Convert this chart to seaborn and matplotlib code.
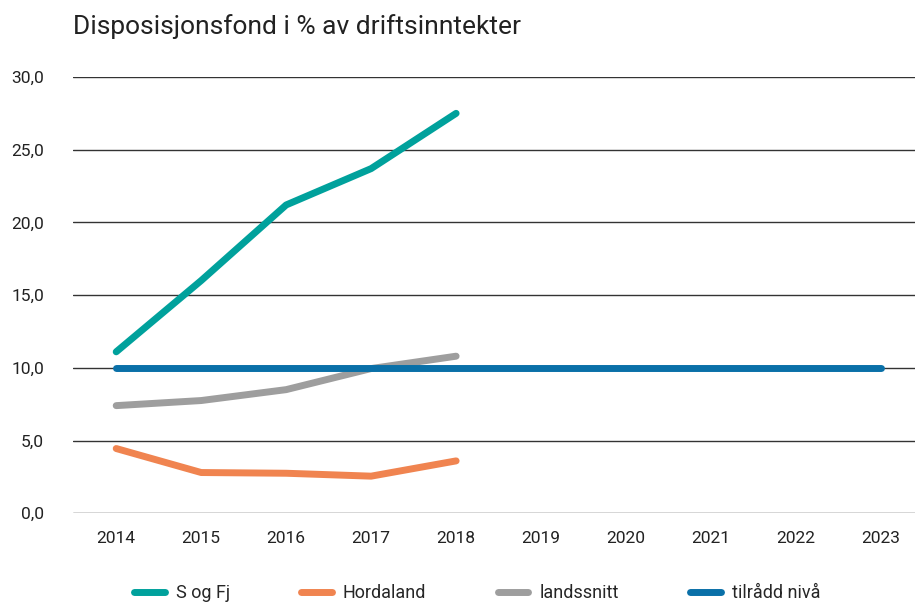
import pandas as pd
import seaborn as sns
import matplotlib.pyplot as plt

years = ['2014', '2015', '2016', '2017', '2018', '2019', '2020', '2021', '2022', '2023']
s_og_fj = [11.1, 16.0, 21.2, 23.7, 27.5]
hordaland = [4.45, 2.8, 2.75, 2.55, 3.6]
landssnitt = [7.4, 7.75, 8.5, 9.95, 10.8]
tilraadd = [10.0] * 10

series = {
    'S og Fj': s_og_fj,
    'Hordaland': hordaland,
    'landssnitt': landssnitt,
    'tilrådd nivå': tilraadd,
}
colors = ['#00A19C', '#F08450', '#9E9E9E', '#0A70A8']

rows = []
for name, vals in series.items():
    for yr, v in zip(years, vals):
        rows.append({'year': yr, 'value': v, 'series': name})
df = pd.DataFrame(rows)
df['x'] = df['year'].map({y: i for i, y in enumerate(years)})

sns.set_style('white')
plt.rcParams['font.family'] = ['Roboto', 'DejaVu Sans']

fig = plt.figure(figsize=(9.15, 6.11), dpi=100)
ax = fig.add_axes([0.08, 0.16, 0.92, 0.714])

sns.lineplot(data=df, x='x', y='value', hue='series', palette=colors,
             linewidth=5, ax=ax, legend=True, solid_capstyle='round')

ax.set_xlim(-0.506, 9.4)
ax.set_ylim(0, 30)
ax.set_yticks([0, 5, 10, 15, 20, 25, 30])
ax.set_yticklabels([f'{v:.1f}'.replace('.', ',') for v in [0, 5, 10, 15, 20, 25, 30]])
ax.set_xticks(range(len(years)))
ax.set_xticklabels(years)
ax.tick_params(axis='both', length=0, labelsize=12.5, colors='#222222')
ax.tick_params(axis='x', pad=13)
ax.tick_params(axis='y', pad=21)
ax.yaxis.grid(True, color='#333333', linewidth=1)
ax.set_axisbelow(True)
for s in ax.spines.values():
    s.set_visible(False)
ax.set_xlabel('')
ax.set_ylabel('')

fig.text(0.08, 0.957, 'Disposisjonsfond i % av driftsinntekter', fontsize=19,
         color='#222222', va='center')

leg = ax.legend(loc='center', bbox_to_anchor=(0.48, -0.183), ncol=4, frameon=False,
                fontsize=13, handlelength=1.7, columnspacing=3.95, handletextpad=0.6)
for line in leg.get_lines():
    line.set_linewidth(5)
    line.set_solid_capstyle('round')

plt.savefig('out.png', dpi=100)
